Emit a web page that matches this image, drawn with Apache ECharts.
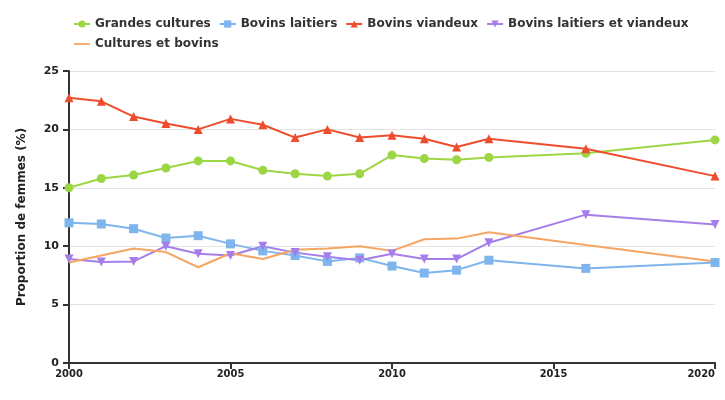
<!DOCTYPE html>
<html><head><meta charset="utf-8">
<script src="https://cdn.jsdelivr.net/npm/echarts@6/dist/echarts.min.js"></script>
<style>html,body{margin:0;padding:0;background:#fff}#c{width:725px;height:400px}</style>
</head><body><div id="c"></div>
<script>
const years = [2000,2001,2002,2003,2004,2005,2006,2007,2008,2009,2010,2011,2012,2013,2016,2020];
const grandesCultures = [15.0,15.8,16.1,16.7,17.3,17.3,16.5,16.2,16.0,16.2,17.8,17.5,17.4,17.6,17.95,19.1];
const bovinsLaitiers = [12.0,11.9,11.5,10.7,10.9,10.2,9.6,9.2,8.7,9.0,8.3,7.7,7.95,8.8,8.1,8.6];
const bovinsViandeux = [22.7,22.4,21.1,20.5,20.0,20.9,20.4,19.3,20.0,19.3,19.5,19.2,18.5,19.2,18.35,16.0];
const bovinsLaitiersViandeux = [8.9,8.65,8.7,10.0,9.35,9.2,10.0,9.45,9.1,8.8,9.35,8.9,8.9,10.3,12.7,11.85];
const culturesBovins = [8.6,9.2,9.8,9.5,8.2,9.4,8.9,9.7,9.8,10.0,9.6,10.6,10.65,11.2,10.1,8.7];
const yTicks = [0,5,10,15,20,25];
const xTicks = [2000,2005,2010,2015,2020];

const pair = arr => years.map((y,i)=>[y,arr[i]]);
const font = 'DejaVu Sans';
function s(name, data, color, symbol, rot){
  return {name, type:'line', data:pair(data), color,
    symbol: symbol||'none', symbolSize: 9, symbolRotate: rot||0,
    showSymbol: !!symbol,
    lineStyle:{width:2, color}, itemStyle:{color}};
}
const lineIcon = 'path://M0,0M0,4h18v2h-18zM18,10';
const names = ['Grandes cultures','Bovins laitiers','Bovins viandeux','Bovins laitiers et viandeux','Cultures et bovins'];
const chart = echarts.init(document.getElementById('c'));
chart.setOption({
  animation:false,
  textStyle:{fontFamily:font},
  legend:{left:68, top:13, width:630, itemWidth:16, itemHeight:9, itemGap:8,
    data: names.map(n => n==='Cultures et bovins' ? {name:n, icon:lineIcon} : n),
    textStyle:{fontFamily:font, fontWeight:'bold', fontSize:12, color:'#333'}},
  grid:{left:69, right:10, top:71, bottom:37, outerBoundsMode:'none', containLabel:false},
  xAxis:{type:'value', min:2000, max:2020, interval:5,
    axisLine:{lineStyle:{color:'#333', width:2}},
    axisTick:{show:true, length:6, lineStyle:{color:'#333', width:2}},
    splitLine:{show:false},
    axisLabel:{fontFamily:'DejaVu Sans Condensed', fontWeight:'bold', fontSize:11, color:'#222', margin:6,
      alignMaxLabel:'right',
      formatter: v => xTicks.includes(v) ? String(v) : ''}},
  yAxis:{type:'value', min:0, max:25, interval:5,
    name:'Proportion de femmes (%)', nameLocation:'middle', nameGap:41,
    nameTextStyle:{fontFamily:font, fontWeight:'bold', fontSize:12, color:'#222'},
    axisLine:{show:true, lineStyle:{color:'#333', width:2}},
    axisTick:{show:true, length:6, lineStyle:{color:'#333', width:2}},
    splitLine:{lineStyle:{color:'#e3e3e3', width:1}},
    axisLabel:{fontFamily:font, fontWeight:'bold', fontSize:11, color:'#222', margin:10,
      formatter: v => yTicks.includes(v) ? String(v) : ''}},
  series:[
    s('Grandes cultures', grandesCultures, '#9cd644', 'circle'),
    s('Bovins laitiers', bovinsLaitiers, '#7eb5ec', 'rect'),
    s('Bovins viandeux', bovinsViandeux, '#ee4c2c', 'triangle'),
    s('Bovins laitiers et viandeux', bovinsLaitiersViandeux, '#a57eea', 'triangle', 180),
    s('Cultures et bovins', culturesBovins, '#f6a562', null)
  ]
});
</script></body></html>
